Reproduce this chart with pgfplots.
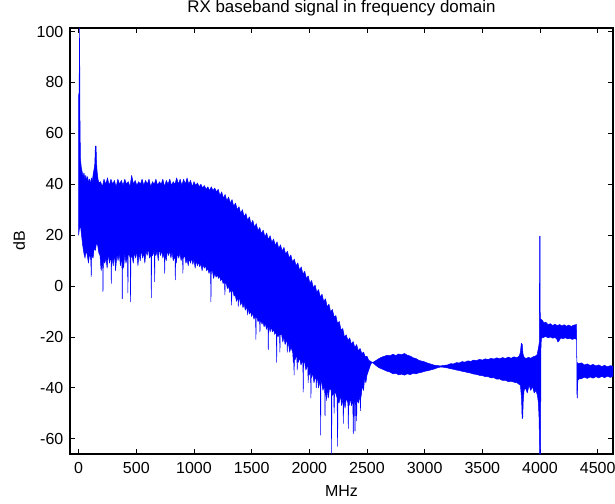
\documentclass[border=0pt]{standalone}
\usepackage{fontspec}
\setmainfont{Liberation Sans}
\usepackage{pgfplots}
\pgfplotsset{compat=1.18}
\newcommand\chartfont{\fontsize{16bp}{19bp}\selectfont}
\newcommand\titlefont{\fontsize{16.9bp}{20bp}\selectfont}
\begin{document}
\begin{tikzpicture}
\begin{axis}[
  scale only axis, width=543bp, height=426bp,
  xmin=-75, xmax=4633, ymin=-66, ymax=101.4,
  xtick={0,500,...,4500}, ytick={-60,-40,...,100},
  tick align=inside, major tick length=5bp,
  xtick pos=both, ytick pos=both,
  axis line style={line width=1.3bp, black},
  tick style={line width=0.8bp, black},
  /pgf/number format/assume math mode=true,
  /pgf/number format/1000 sep={},
  tick label style={font=\chartfont},
  title={RX baseband signal in frequency domain},
  title style={at={(0.5,1)}, anchor=base, yshift=9.5bp, inner sep=0pt, font=\titlefont},
  xlabel={MHz},
  xlabel style={at={(0.5,0)}, anchor=base, yshift=-42.7bp, inner sep=0pt, font=\chartfont},
  ylabel={dB},
  ylabel style={at={(0,0.5)}, anchor=base, yshift=45bp, inner sep=0pt, font=\chartfont},
  xticklabel style={anchor=base, yshift=-19.5bp, inner sep=0pt},
  yticklabel style={inner sep=0pt, xshift=-6.5bp},
]
\addplot[draw=blue, fill=blue, line width=0.5bp, line join=round] coordinates {
(0,75) (4,76) (8,101.4) (12,62) (16,50) (22,47) (30,45) (38,43) (46,44.5) (54,42) (62,43.5) (70,41.5) (78,43) (86,40.5) (94,42) (102,40) (110,42.5) (118,41) (126,44) (134,46) (140,48) (145,55) (151,55) (155,49) (160,45) (168,42) (176,40.5)
(190,41) (205,39) (220,42) (235,40) (250,42.5) (265,39.5) (280,42) (295,40) (310,41.5) (325,39) (340,42) (355,40) (370,41.5) (385,39.5) (400,42) (415,40) (430,41) (445,39) (460,43.5) (475,40) (490,41.5) (505,39.5) (520,41) (535,40) (550,42) (565,39.5) (580,41.5) (595,40) (610,42) (625,39) (640,41) (655,40) (670,42) (685,39.5) (700,41) (715,40) (730,42) (745,39) (760,41.5) (775,40) (790,42) (805,39.5) (820,41) (835,40) (850,42.5) (865,40) (880,42) (895,39.5) (910,42) (925,40) (940,42.5) (955,40) (970,41.5) (985,39) (1000,41) (1015,39.5) (1030,40.5) (1045,39) (1060,40) (1075,38.5) (1090,39.5) (1105,38) (1120,39) (1135,37.5) (1150,39) (1165,37.5) (1180,38.5) (1195,37)
(1210,38) (1225,35.5) (1240,37) (1255,34.5) (1270,36) (1285,33.5) (1300,35) (1315,32.5) (1330,34) (1345,31.3) (1360,32.6) (1375,30) (1390,31.2) (1405,28.5) (1420,30) (1435,27.2) (1450,28.5) (1465,25.8) (1480,27.2) (1495,24.4) (1510,25.8) (1525,23.1) (1540,24.5) (1555,21.8) (1570,23) (1585,20.5) (1600,22) (1615,19.3) (1630,20.8) (1645,18.2) (1660,19.8) (1675,17.1) (1690,18.5) (1705,15.9) (1720,17.4) (1735,14.8) (1750,16.2) (1765,13.7) (1780,15.2) (1795,12.5) (1810,13.7) (1825,11) (1840,12.2) (1855,9.4) (1870,10.6) (1885,7.9) (1900,9.1) (1915,6.3) (1930,7.5) (1945,4.7) (1960,5.8) (1975,2.9) (1990,4) (2005,1.1) (2020,2.2) (2035,-0.7) (2050,0.4) (2065,-2.5) (2080,-1.4) (2095,-4.3) (2110,-3.2) (2125,-6.1) (2140,-5) (2155,-8.2) (2170,-7.1) (2185,-10.2) (2200,-9.2) (2215,-12.2) (2230,-11.6) (2245,-14.8) (2260,-13.9) (2275,-17.3) (2290,-16.7) (2305,-20.1) (2320,-19.2) (2335,-21.4) (2350,-20.4) (2365,-22.9) (2380,-21.8) (2395,-24.2) (2410,-23) (2425,-25.5) (2440,-24.5) (2455,-26.5) (2470,-26) (2485,-27.8) (2500,-27.6) (2515,-29.2) (2530,-29.5) (2543,-30)
(2560,-29.8) (2580,-29.2) (2600,-28.6) (2625,-28) (2650,-27.6) (2675,-27.2) (2700,-27.4) (2725,-26.8) (2750,-27.3) (2775,-26.7) (2800,-27) (2825,-26.5) (2850,-27.2) (2875,-27.5) (2900,-28.2) (2925,-28.5) (2950,-29.2) (2975,-29.5) (3000,-29.8) (3025,-30.3) (3050,-30.6) (3075,-31) (3100,-31.2) (3120,-31.3) (3140,-31.4) (3160,-31.2) (3200,-31) (3225,-30.5) (3250,-30.6) (3275,-30.1) (3300,-30.2) (3325,-29.7) (3350,-29.9) (3375,-29.4) (3400,-29.6) (3425,-29.1) (3450,-29.3) (3475,-28.8) (3500,-29.1) (3525,-28.6) (3550,-28.9) (3575,-28.4) (3600,-28.7) (3625,-28.2) (3650,-28.6) (3675,-28.1) (3700,-28.5) (3725,-27.9) (3750,-28.4) (3775,-27.8) (3800,-28.2) (3820,-27.5) (3830,-26) (3838,-22.5) (3846,-23) (3852,-26.5) (3862,-28) (3880,-28.5) (3900,-28) (3920,-28.4) (3940,-27.8) (3960,-27.5) (3975,-27) (3988,-24) (3994,-22) (3997,19.6) (4000,19.6) (4003,-22) (4008,-13) (4020,-13.5) (4035,-14.5) (4050,-14.2) (4070,-15.2) (4090,-14.8) (4110,-15.5) (4130,-15) (4150,-15.6) (4170,-15.1) (4190,-15.7) (4210,-15.2) (4230,-15.8) (4250,-15.3) (4270,-15.9) (4290,-15.4) (4310,-15.2) (4316,-15) (4319,-30) (4335,-30.5) (4360,-30.2) (4385,-31) (4410,-30.6) (4435,-31.2) (4460,-30.8) (4485,-31.4) (4510,-31) (4535,-31.6) (4560,-31.2) (4585,-31.7) (4610,-31.3) (4633,-31.5)
(4633,-35.5) (4610,-35.9) (4585,-35.4) (4560,-36) (4535,-35.5) (4510,-36.1) (4485,-35.6) (4460,-36.2) (4435,-35.7) (4410,-36.3) (4385,-35.8) (4360,-36.4) (4340,-36.5) (4328,-37) (4323,-44) (4320,-42) (4318,-21) (4300,-20.6) (4280,-21) (4260,-20.5) (4240,-20.8) (4220,-20.3) (4200,-20.7) (4180,-20.4) (4165,-21.5) (4155,-22) (4145,-20.8) (4130,-20.2) (4110,-20.5) (4090,-20) (4070,-20.4) (4050,-19.8) (4030,-20.2) (4012,-20.5) (4008,-25) (4005,-66) (3997,-66) (3992,-52) (3986,-46) (3978,-43) (3965,-41) (3950,-42) (3935,-39.5) (3920,-41) (3905,-39) (3890,-42) (3875,-40) (3862,-41) (3855,-45) (3850,-52) (3845,-52) (3840,-44) (3830,-39) (3815,-38.5) (3800,-38) (3775,-37.8) (3750,-37.4) (3725,-37.6) (3700,-37) (3675,-37.1) (3650,-36.5) (3625,-36.6) (3600,-36) (3575,-36.1) (3550,-35.6) (3525,-35.6) (3500,-35.2) (3475,-35.1) (3450,-34.7) (3425,-34.6) (3400,-34.2) (3375,-34) (3350,-33.7) (3325,-33.5) (3300,-33.2) (3275,-33) (3250,-32.7) (3225,-32.5) (3200,-32.2) (3160,-31.9) (3140,-31.8) (3120,-32) (3100,-32.3) (3075,-32.7) (3050,-33) (3025,-33.3) (3000,-33.5) (2975,-33.9) (2950,-34.1) (2925,-34.5) (2900,-34.3) (2875,-34.8) (2850,-34.5) (2825,-35) (2800,-34.6) (2775,-34.9) (2750,-34.3) (2725,-34.5) (2700,-33.8) (2675,-33.5) (2650,-33) (2625,-32.5) (2600,-32) (2580,-31.3) (2560,-30.5)
(2543,-30) (2530,-31) (2515,-33) (2500,-35) (2490,-38) (2480,-36) (2470,-41) (2460,-39) (2450,-43) (2446,-44) (2443,-49) (2440,-43) (2425,-46) (2414,-44) (2410,-53) (2406,-45) (2400,-46) (2396,-57) (2392,-46) (2385,-45) (2381,-58) (2377,-45) (2365,-47) (2355,-44) (2345,-47) (2341,-46) (2338,-56) (2335,-46) (2320,-44) (2310,-48) (2300,-45) (2298,-45) (2295,-54) (2292,-44) (2280,-47) (2270,-43) (2258,-46) (2249,-44) (2245,-63) (2241,-44) (2228,-42) (2219,-42) (2215,-50) (2211,-41) (2200,-43) (2196,-42) (2193,-66) (2190,-41) (2175,-40) (2165,-44) (2155,-40) (2150,-45) (2143,-40) (2139,-40) (2136,-51) (2133,-39) (2118,-41) (2108,-38) (2101,-38) (2098,-58.6) (2095,-37) (2080,-40) (2070,-36) (2063,-37) (2060,-40) (2057,-35) (2040,-38) (2030,-34) (2020,-36) (2017,-34) (2014,-44) (2011,-33) (2000,-35) (1993,-33) (1990,-38) (1986,-31) (1970,-33) (1960,-30) (1950,-30) (1947,-41.7) (1944,-29) (1928,-31) (1915,-28) (1905,-30) (1898,-28) (1895,-33) (1891,-27) (1876,-29) (1871,-27) (1868,-35) (1864,-26) (1861,-30) (1856,-26) (1840,-24) (1830,-26) (1820,-23) (1812,-22) (1809,-26) (1806,-21) (1790,-23) (1780,-20) (1770,-22) (1760,-19) (1748,-19) (1745,-26) (1742,-18.5) (1728,-20) (1720,-18) (1717,-30) (1714,-18) (1700,-19) (1690,-17) (1680,-18) (1670,-16) (1660,-18) (1650,-15.5) (1647,-15.5) (1644,-25) (1641,-15) (1628,-17) (1618,-14.5) (1608,-16) (1598,-14) (1590,-15) (1580,-13.5) (1575,-13.5) (1572,-18) (1569,-13) (1555,-14) (1545,-12) (1540,-12) (1537,-21) (1534,-11.5) (1520,-13) (1510,-11) (1503,-11) (1500,-12) (1492,-10) (1480,-11) (1470,-9) (1466,-9) (1463,-11.4) (1460,-8) (1445,-9.5) (1435,-7) (1425,-8.5) (1415,-6) (1405,-7.5) (1395,-5) (1387,-5) (1384,-8) (1381,-4.5) (1368,-6) (1358,-3.5) (1348,-4) (1338,-2) (1329,-2) (1326,-7.5) (1323,-1.5) (1310,-2.5) (1300,0) (1290,-1) (1280,1) (1271,1) (1268,-3.5) (1265,1.5) (1252,1) (1242,3) (1232,2) (1222,4) (1212,3) (1202,4.5) (1192,3.5) (1180,5) (1170,3) (1160,6) (1150,6) (1147,-6.2) (1144,6.5) (1130,5) (1120,7) (1110,6) (1100,8) (1090,7) (1080,8.5) (1070,6) (1060,9) (1050,7.5) (1040,9.5) (1030,8) (1020,10) (1010,7) (1000,10.5) (990,8.5) (980,11) (970,9) (960,11) (950,8) (940,10.5) (930,9) (920,12) (907,11) (904,5) (901,12) (888,10) (878,13) (868,11) (858,13) (846,9) (841,11) (838,2.4) (835,12) (820,10) (810,13.5) (800,11) (790,14) (780,12) (770,14) (760,10) (749,12) (746,5) (743,13) (730,11) (720,14) (710,12) (700,15) (690,10) (680,14) (670,12) (662,13) (659,1.7) (656,14) (642,12) (633,12) (630,-4.6) (627,13) (614,11) (604,15) (594,12) (584,14) (574,9) (564,13) (554,11) (544,14.5) (534,10) (524,13) (514,8) (504,14) (494,11) (484,13.5) (474,9) (462,12) (453,11) (450,-6.2) (447,11) (434,13) (430,12) (427,-2.7) (424,12) (410,9) (400,13) (390,7) (381,11) (378,-5) (375,12) (362,8) (352,13) (342,10) (332,12.5) (320,6) (310,13) (300,8) (286,12) (283,1) (280,12) (267,9) (257,13) (247,7) (237,11) (227,9) (214,10) (211,-2.2) (208,11) (195,6) (185,12) (175,13) (165,16) (155,17) (145,14) (135,15) (125,11) (112,12) (109,3.7) (106,10) (95,13) (85,9) (75,12) (65,14) (55,11) (45,13) (35,16) (25,20) (15,24) (5,22) (0,20)
} -- cycle;
\end{axis}
\pgfresetboundingbox
\path ([xshift=-70bp,yshift=-50bp]current axis.south west) rectangle ([xshift=2bp,yshift=28bp]current axis.north east);
\end{tikzpicture}
\end{document}
